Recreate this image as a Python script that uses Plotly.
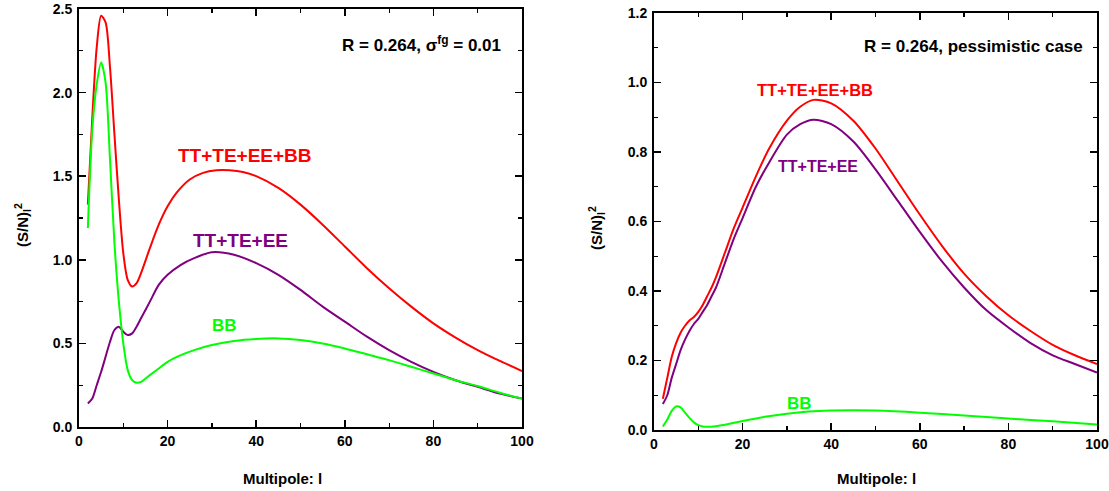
import plotly.graph_objects as go

# ---------------- data ----------------
# Left panel: R = 0.264, sigma_fg = 0.01
l_red_L = [2,3,4,5,6,7,8,9,10,11,12,13,14,16,18,20,22,25,28,31,34,37,40,45,50,55,60,65,70,75,80,85,90,95,100]
v_red_L = [1.33,1.85,2.27,2.46,2.42,2.15,1.75,1.36,1.04,0.88,0.84,0.86,0.92,1.07,1.21,1.32,1.40,1.48,1.52,1.535,1.535,1.525,1.50,1.43,1.33,1.21,1.08,0.95,0.83,0.72,0.62,0.535,0.46,0.395,0.335]

l_pur_L = [2,3,4,5,6,7,8,9,10,11,12,13,14,16,18,20,23,26,30,35,40,45,50,55,60,65,70,75,80,85,90,95,100]
v_pur_L = [0.14,0.17,0.25,0.33,0.42,0.51,0.58,0.60,0.57,0.55,0.56,0.60,0.65,0.75,0.85,0.91,0.97,1.01,1.045,1.03,0.98,0.91,0.82,0.72,0.63,0.54,0.46,0.39,0.33,0.28,0.24,0.20,0.17]

l_grn_L = [2,3,4,5,6,7,8,9,10,11,12,13,14,16,18,20,23,26,30,35,40,45,50,55,60,65,70,75,80,85,90,95,100]
v_grn_L = [1.19,1.78,2.05,2.18,2.06,1.60,1.10,0.75,0.50,0.34,0.28,0.265,0.27,0.31,0.35,0.39,0.43,0.46,0.49,0.515,0.527,0.53,0.52,0.50,0.47,0.435,0.40,0.36,0.32,0.28,0.245,0.205,0.17]

# Right panel: R = 0.264, pessimistic case
l_red_R = [2,3,4,5,6,7,8,9,10,11,12,13,14,16,18,20,23,26,30,33,36,40,45,50,55,60,65,70,75,80,85,90,95,100]
v_red_R = [0.09,0.15,0.21,0.25,0.28,0.30,0.315,0.325,0.34,0.36,0.385,0.41,0.44,0.51,0.58,0.64,0.73,0.81,0.89,0.93,0.95,0.94,0.89,0.81,0.715,0.62,0.53,0.45,0.385,0.33,0.285,0.245,0.215,0.19]

l_pur_R = [2,3,4,5,6,7,8,9,10,11,12,13,14,16,18,20,23,26,30,33,36,40,45,50,55,60,65,70,75,80,85,90,95,100]
v_pur_R = [0.075,0.10,0.15,0.19,0.23,0.26,0.285,0.305,0.32,0.34,0.36,0.385,0.41,0.48,0.55,0.61,0.70,0.77,0.85,0.88,0.893,0.88,0.83,0.75,0.66,0.57,0.485,0.41,0.345,0.295,0.25,0.215,0.19,0.165]

l_grn_R = [2,3,4,5,6,7,8,9,10,11,12,14,16,20,25,30,35,40,45,50,60,70,80,90,100]
v_grn_R = [0.01,0.03,0.055,0.068,0.065,0.05,0.035,0.022,0.014,0.01,0.009,0.011,0.015,0.026,0.038,0.047,0.053,0.056,0.057,0.056,0.05,0.042,0.033,0.025,0.016]

x_ticks = [0, 20, 40, 60, 80, 100]

# ---------------- figure ----------------
W, H = 1109, 491
FONT = "Liberation Sans Narrow, Arial Narrow, Liberation Sans, Arial, sans-serif"
RED, PUR, GRN = "#FF0000", "#800080", "#00FF00"

def px(x):
    return x / W

def py(y):
    return 1 - y / H

fig = go.Figure()

def add(l, v, color, xa, ya):
    fig.add_trace(go.Scatter(x=l, y=v, mode="lines", xaxis=xa, yaxis=ya,
                             line=dict(color=color, width=2, shape="spline", smoothing=0.8),
                             showlegend=False, hoverinfo="skip"))

add(l_red_L, v_red_L, RED, "x", "y")
add(l_pur_L, v_pur_L, PUR, "x", "y")
add(l_grn_L, v_grn_L, GRN, "x", "y")
add(l_red_R, v_red_R, RED, "x2", "y2")
add(l_pur_R, v_pur_R, PUR, "x2", "y2")
add(l_grn_R, v_grn_R, GRN, "x2", "y2")

tickfont = dict(family=FONT, size=14, color="black", weight="bold")

def xaxis(domain, anchor):
    return dict(domain=domain, anchor=anchor, range=[0, 100], tickvals=x_ticks,
                ticks="inside", ticklen=7, tickwidth=1.5, tickcolor="black",
                minor=dict(dtick=10, tick0=0, ticks="inside", ticklen=4, tickwidth=1.2, tickcolor="black"),
                showline=True, linecolor="black", linewidth=2, mirror="ticks",
                showgrid=False, zeroline=False, tickfont=tickfont, ticklabelstandoff=0,
                ticklabeloverflow="allow", automargin=False, fixedrange=True)

def yaxis(domain, anchor, rng, dt):
    return dict(domain=domain, anchor=anchor, range=rng, dtick=dt, tick0=0,
                tickformat=".1f",
                ticks="inside", ticklen=7, tickwidth=1.5, tickcolor="black",
                minor=dict(dtick=dt / 2, tick0=0, ticks="inside", ticklen=4, tickwidth=1.2, tickcolor="black"),
                showline=True, linecolor="black", linewidth=2, mirror="ticks",
                showgrid=False, zeroline=False, tickfont=tickfont, ticklabelstandoff=2,
                ticklabeloverflow="allow", automargin=False, fixedrange=True)

fig.update_layout(
    width=W, height=H,
    margin=dict(l=0, r=0, t=0, b=0, autoexpand=False),
    paper_bgcolor="white", plot_bgcolor="white",
    hovermode=False,
    xaxis=xaxis([px(79), px(522)], "y"),
    yaxis=yaxis([py(427), py(9)], "x", [0, 2.5], 0.5),
    xaxis2=xaxis([px(654), px(1097)], "y2"),
    yaxis2=yaxis([py(430), py(13)], "x2", [0, 1.2], 0.2),
)

def ann(text, x, y, size, color="black", angle=0, xanchor="center"):
    fig.add_annotation(text=text, x=px(x), y=py(y), xref="paper", yref="paper",
                       showarrow=False, textangle=angle, xanchor=xanchor, yanchor="middle",
                       font=dict(family=FONT, size=size, color=color, weight="bold"))

# axis titles
ann("Multipole: l", 282, 478, 15)
ann("Multipole: l", 876, 478, 15)
ann("(S/N)<sub>l</sub><sup>2</sup>", 22, 225, 15, angle=-90)
ann("(S/N)<sub>l</sub><sup>2</sup>", 596, 228, 15, angle=-90)

# panel captions
ann("R = 0.264, σ<sup>fg</sup> = 0.01", 503, 44, 17, xanchor="right")
ann("R = 0.264, pessimistic case", 1085, 47, 17, xanchor="right")

# curve labels
ann("TT+TE+EE+BB", 245, 155, 19, RED)
ann("TT+TE+EE", 240, 240, 19, PUR)
ann("BB", 224, 325, 17, GRN)
ann("TT+TE+EE+BB", 815, 90, 16.5, RED)
ann("TT+TE+EE", 818, 167, 16, PUR)
ann("BB", 799, 403, 17, GRN)

fig.write_html("out.html", config={"displayModeBar": False, "staticPlot": True},
               post_script="document.body.style.margin='0px';")
